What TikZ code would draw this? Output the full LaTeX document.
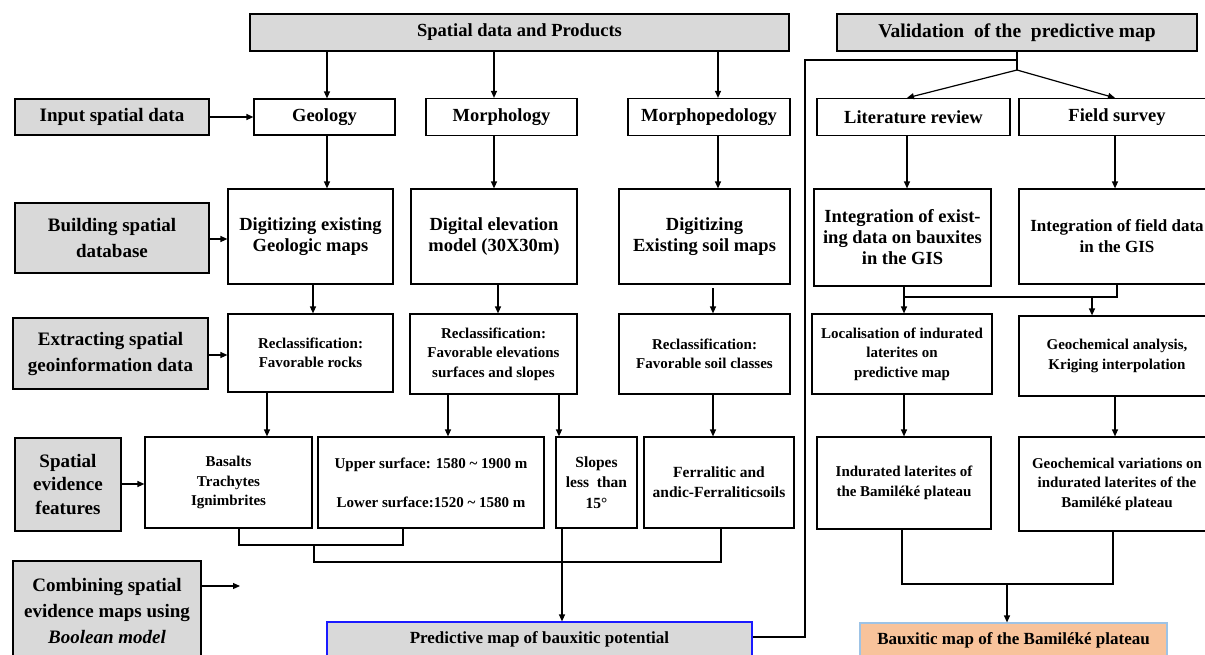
\documentclass[tikz,border=0pt]{standalone}
\usepackage{fontspec}
\setmainfont{Liberation Serif}
\usetikzlibrary{arrows.meta}
\definecolor{boxgray}{HTML}{D9D9D9}
\definecolor{peach}{HTML}{F8C39B}
\definecolor{lblue}{HTML}{9DC3E6}
\definecolor{pblue}{HTML}{1A1AFF}
\begin{document}
\begin{tikzpicture}[x=1pt,y=-1pt,
  box/.style={draw, line width=1.2pt, rectangle, inner sep=1pt, align=center,
              font=\bfseries\fontsize{18.5}{21}\selectfont},
  small/.style={box, font=\bfseries\fontsize{15}{19.5}\selectfont},
  lab/.style={box, fill=boxgray, font=\bfseries\fontsize{19}{26}\selectfont},
  arr/.style={line width=1.2pt, -{Triangle[length=7pt,width=6pt]}},
  ln/.style={line width=1.2pt}]
\useasboundingbox (0,0) rectangle (1205,654);
\fill[white] (0,0) rectangle (1205,654);
\clip (0,0) rectangle (1205,654);

% top row
\node[box, fill=boxgray, minimum width=539, minimum height=37] (top) at (519.5,32.5) {Spatial data and Products};
\node[box, fill=boxgray, minimum width=360, minimum height=37, font=\bfseries\fontsize{19.5}{22}\selectfont] (valid) at (1017,32.5) {Validation\ \ of the\ \ predictive map};

% row 1
\node[lab, minimum width=194, minimum height=36] (input) at (112,117) {Input spatial data};
\node[box, minimum width=141, minimum height=36] (geol) at (324.5,117) {Geology};
\node[box, minimum width=151, minimum height=37] (morph) at (501.5,117) {Morphology};
\node[box, minimum width=162, minimum height=37] (mped) at (709,117) {Morphopedology};
\node[box, minimum width=193, minimum height=37] (lit) at (913.5,117) {Literature review};
\node[box, minimum width=196, minimum height=37] (field) at (1117,117) {Field survey};

% row 2
\node[lab, minimum width=194, minimum height=70] (build) at (112,238) {Building spatial\\database};
\node[box, minimum width=165, minimum height=95] (diggeo) at (310.5,236.5) {Digitizing existing\\Geologic maps};
\node[box, minimum width=166, minimum height=95] (dem) at (494,236.5) {Digital elevation\\model (30X30m)};
\node[box, minimum width=171, minimum height=95] (soil) at (704.5,236.5) {Digitizing\\Existing soil maps};
\node[box, minimum width=177, minimum height=97] (intex) at (902.5,237.5) {Integration of exist-\\ing data on bauxites\\in the GIS};
\node[box, minimum width=196, minimum height=95, font=\bfseries\fontsize{17}{21}\selectfont] (intfd) at (1117,236.5) {Integration of field data\\in the GIS};

% row 3
\node[lab, minimum width=195, minimum height=71] (extract) at (110.5,353.5) {Extracting spatial\\geoinformation data};
\node[small, minimum width=165, minimum height=78] (rocks) at (310.5,353) {Reclassification:\\Favorable rocks};
\node[small, minimum width=167, minimum height=80] (elev) at (493.5,354) {Reclassification:\\Favorable elevations\\surfaces and slopes};
\node[small, minimum width=171, minimum height=80] (soilc) at (704.5,354) {Reclassification:\\Favorable soil classes};
\node[small, minimum width=180, minimum height=80] (local) at (902,354) {Localisation of indurated\\laterites on\\predictive map};
\node[small, minimum width=196, minimum height=80] (geochem) at (1117,356) {Geochemical analysis,\\Kriging interpolation};

% row 4
\node[lab, minimum width=106, minimum height=93, font=\bfseries\fontsize{19}{23.5}\selectfont] (sef) at (68,484.5) {Spatial\\evidence\\features};
\node[small, minimum width=167, minimum height=91] (basalt) at (228.5,482.5) {Basalts\\Trachytes\\Ignimbrites};
\node[small, minimum width=226, minimum height=91] (upper) at (431,482.5) {Upper surface: 1580 \char`~\ 1900 m\\[19.5pt]Lower surface:1520 \char`~\ 1580 m};
\node[small, minimum width=81, minimum height=91, font=\bfseries\fontsize{15.5}{20.5}\selectfont] (slopes) at (596.5,482.5) {Slopes\\less\ \ than\\15°};
\node[small, minimum width=150, minimum height=91, font=\bfseries\fontsize{15.5}{20}\selectfont] (ferr) at (719,482.5) {Ferralitic and\\andic-Ferraliticsoils};
\node[small, minimum width=174, minimum height=92] (indur) at (904,483) {Indurated laterites of\\the Bamiléké plateau};
\node[small, minimum width=196, minimum height=94] (geovar) at (1117,484) {Geochemical variations on\\indurated laterites of the\\Bamiléké plateau};

% bottom
\node[lab, minimum width=188, minimum height=100] (comb) at (107,611) {Combining spatial\\evidence maps using\\\textit{Boolean model}};
\node[box, draw=pblue, fill=boxgray, minimum width=425, minimum height=34, font=\bfseries\fontsize{17}{20}\selectfont] (pred) at (539.5,639) {Predictive map of bauxitic potential};
\node[box, draw=lblue, fill=peach, minimum width=307, minimum height=34, font=\bfseries\fontsize{17}{20}\selectfont] (baux) at (1013.5,640) {Bauxitic map of the Bamiléké plateau};

% arrows from top
\draw[arr] (327,0 |- top.south) -- (327,0 |- geol.north);
\draw[arr] (494,0 |- top.south) -- (494,0 |- morph.north);
\draw[arr] (718,0 |- top.south) -- (718,0 |- mped.north);
\draw[arr] (input.east) -- (input.east -| geol.west);

% row1 -> row2
\draw[arr] (327,0 |- geol.south) -- (327,0 |- diggeo.north);
\draw[arr] (494,0 |- morph.south) -- (494,0 |- dem.north);
\draw[arr] (718,0 |- mped.south) -- (718,0 |- soil.north);
\draw[arr] (907,0 |- lit.south) -- (907,0 |- intex.north);
\draw[arr] (1115,0 |- field.south) -- (1115,0 |- intfd.north);
\draw[arr] (build.east |- 0,239) -- (diggeo.west |- 0,239);

% row2 -> row3
\draw[arr] (313,0 |- diggeo.south) -- (313,0 |- rocks.north);
\draw[arr] (498,0 |- dem.south) -- (498,0 |- elev.north);
\draw[arr] (713,288) -- (713,0 |- soilc.north);
\draw[arr] (extract.east |- 0,355) -- (rocks.west |- 0,355);
\coordinate (mL) at (904,297);
\coordinate (mR) at (1117,297);
\coordinate (mA) at (1092,297);
\draw[ln] (904,0 |- intex.south) -- (mL) -- (mR) -- (1117,0 |- intfd.south);
\draw[arr] (mL) -- (mL |- local.north);
\draw[arr] (mA) -- (mA |- geochem.north);

% row3 -> row4
\draw[arr] (267,0 |- rocks.south) -- (267,0 |- basalt.north);
\draw[arr] (448,0 |- elev.south) -- (448,0 |- upper.north);
\draw[arr] (559,0 |- elev.south) -- (559,0 |- slopes.north);
\draw[arr] (713,0 |- soilc.south) -- (713,0 |- ferr.north);
\draw[arr] (904,0 |- local.south) -- (904,0 |- indur.north);
\draw[arr] (1115,0 |- geochem.south) -- (1115,0 |- geovar.north);
\draw[arr] (sef.east |- 0,484) -- (basalt.west |- 0,484);

% combining lines
\draw[ln] (239,0 |- basalt.south) -- (239,545) -- (403,545) -- (403,0 |- upper.south);
\draw[ln] (314,545) -- (314,562) -- (721,562) -- (721,0 |- ferr.south);
\draw[arr] (562,0 |- slopes.south) -- (562,0 |- pred.north);
\coordinate (cend) at (240,586);
\draw[arr] (cend -| comb.east) -- (cend);

% validation lines
\coordinate (vj) at (1017,70);
\draw[ln] (valid.south) -- (vj);
\draw[ln] (pred.east |- 0,637) -- (805,637) -- (805,60) -- (1017,60);
\draw[arr] (vj) -- (907,0 |- lit.north);
\draw[arr] (vj) -- (1115,0 |- field.north);

% right bottom
\coordinate (bj) at (1007,584);
\draw[ln] (902,0 |- indur.south) -- (902,584) -- (1113,584) -- (1113,0 |- geovar.south);
\draw[arr] (bj) -- (bj |- baux.north);
\end{tikzpicture}
\end{document}
